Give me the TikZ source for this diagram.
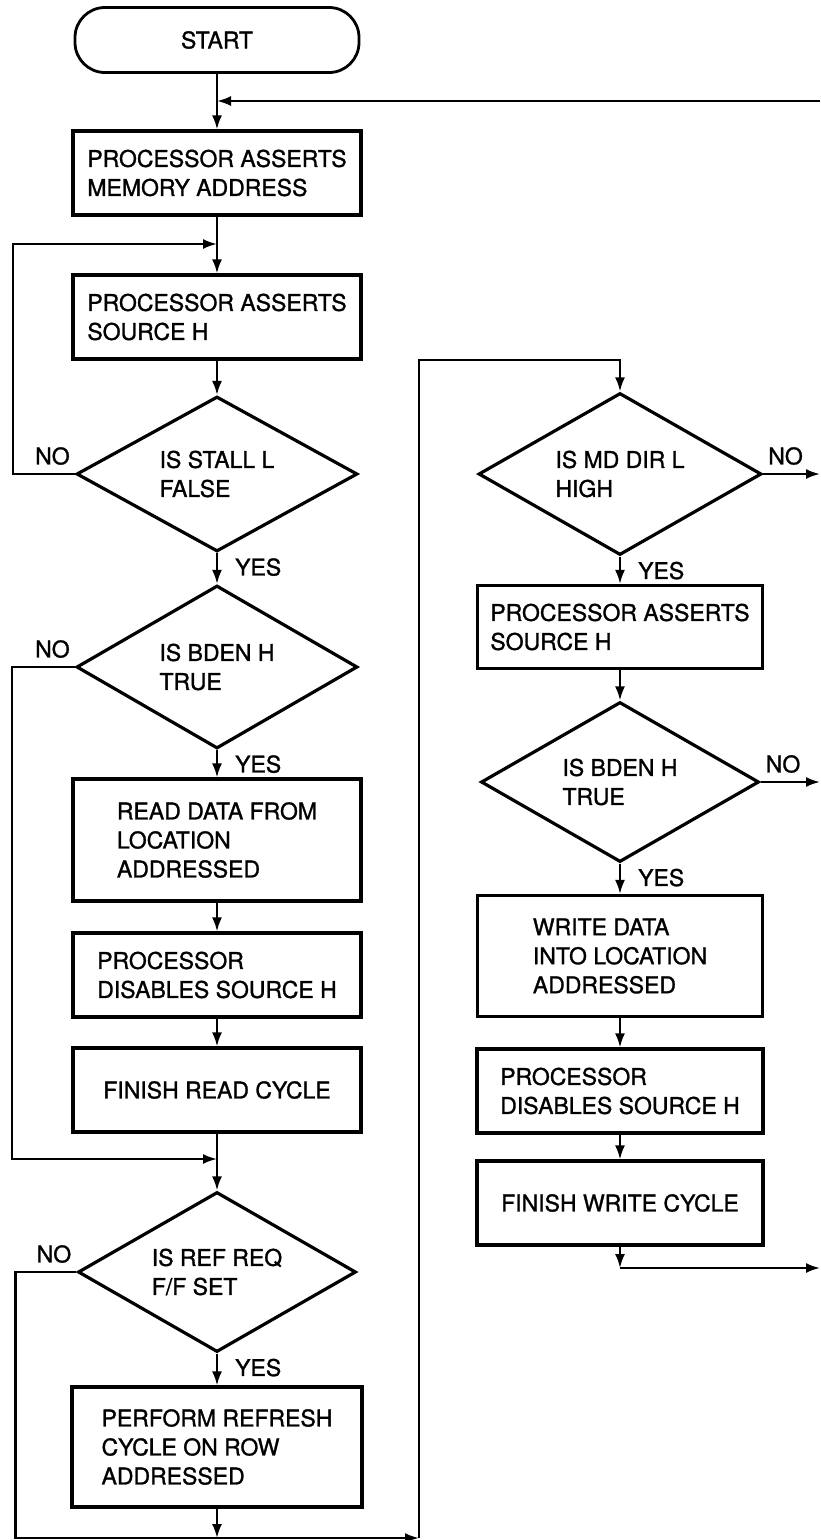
\documentclass[tikz,border=0pt]{standalone}
\usepackage{fontspec}
\setmainfont{TeX Gyre Heros}[FakeBold=1.2]
\usetikzlibrary{shapes,arrows.meta,positioning,calc}

\begin{document}
\begin{tikzpicture}[x=1pt,y=-1pt,
  every node/.style={font=\fontsize{23}{29}\selectfont},
  box/.style={draw,line width=3.2pt,minimum width=288pt,minimum height=84pt,align=left,inner sep=0pt},
  tall/.style={minimum height=122pt},
  test/.style={draw,diamond,aspect=2,line width=3.2pt,minimum width=281pt,minimum height=160pt,inner sep=0pt,align=left},
  term/.style={draw,rounded corners=30pt,line width=2.8pt,minimum width=284pt,minimum height=65pt},
  lbl/.style={inner sep=1pt},
  yes/.style={lbl,anchor=north west,xshift=17pt,yshift=-4pt},
  noleft/.style={lbl,anchor=south east,xshift=-4pt,yshift=8pt},
  noright/.style={lbl,anchor=south west,xshift=4pt,yshift=8pt},
  line/.style={line width=2.2pt},
  arr/.style={line,-{Latex[length=14pt,width=10pt]}}
]
\useasboundingbox (0,0) rectangle (820,1540);

\node[term] (start) at (217,40) {START};
\node[box] (addr) at (217,173) {PROCESSOR ASSERTS\\MEMORY ADDRESS};
\node[box] (srcl) at (217,317) {PROCESSOR ASSERTS\\SOURCE H};
\node[test,minimum height=155pt] (stall) at (217,474) {IS STALL L\\FALSE};
\node[test,minimum height=163pt] (bdenl) at (217,667) {IS BDEN H\\TRUE};
\node[box,tall] (read) at (217,840) {READ DATA FROM\\LOCATION\\ADDRESSED};
\node[box] (disl) at (217,975) {PROCESSOR\\DISABLES SOURCE H};
\node[box] (finr) at (217,1090) {FINISH READ CYCLE};
\node[test,minimum width=278pt] (refreq) at (217,1272) {IS REF REQ\\F/F SET};
\node[box,minimum height=120pt,minimum width=290pt] (refresh) at (217,1447) {PERFORM REFRESH\\CYCLE ON ROW\\ADDRESSED};

\node[test,minimum width=283pt,minimum height=162pt] (mddir) at (620,474) {IS MD DIR L\\HIGH};
\node[box,minimum width=285pt,minimum height=83pt] (srcr) at (620,627) {PROCESSOR ASSERTS\\SOURCE H};
\node[test,minimum width=278pt] (bdenr) at (620,782) {IS BDEN H\\TRUE};
\node[box,minimum width=285pt,minimum height=121pt] (write) at (620,956) {WRITE DATA\\INTO LOCATION\\ADDRESSED};
\node[box,minimum width=286pt] (disr) at (620,1091) {PROCESSOR\\DISABLES SOURCE H};
\node[box,minimum width=286pt] (finw) at (620,1203) {FINISH WRITE CYCLE};

\node[noleft] (no1) at (stall.west) {NO};
\node[noleft] (no2) at (bdenl.west) {NO};
\node[noleft] (no3) at (refreq.west) {NO};
\node[noright] (no4) at (mddir.east) {NO};
\node[noright] (no5) at (bdenr.east) {NO};
\node[yes] (yes1) at (stall.south) {YES};
\node[yes] (yes2) at (bdenl.south) {YES};
\node[yes] (yes3) at (refreq.south) {YES};
\node[yes] (yes4) at (mddir.south) {YES};
\node[yes] (yes5) at (bdenr.south) {YES};

\coordinate (ret) at (820,101);
\coordinate (back) at (217,101);
\coordinate (loop) at (217,244);
\coordinate (merge) at (217,1159);
\coordinate (corner) at (419,1538);
\coordinate (jump) at (620,360);
\coordinate (out1) at (820,474);
\coordinate (out2) at (820,782);
\coordinate (down) at (620,1268);
\coordinate (out3) at (820,1268);

\draw[arr] (start.south) -- (addr.north);
\draw[arr] (ret) -- (back);
\draw[arr] (addr.south) -- (srcl.north);
\draw[arr] (srcl.south) -- (stall.north);
\draw[arr] (stall.west) -- ++(-62,0) |- (loop);
\draw[arr] (stall.south) -- (bdenl.north);
\draw[arr] (bdenl.south) -- (read.north);
\draw[arr] (read.south) -- (disl.north);
\draw[arr] (disl.south) -- (finr.north);
\draw[arr] (bdenl.west) -- ++(-63,0) |- (merge);
\draw[arr] (finr.south) -- (refreq.north);
\draw[arr] (refreq.south) -- (refresh.north);
\draw[arr] (refreq.west) -- ++(-61,0) |- (corner);
\draw[arr] (refresh.south) -- (refresh.south |- corner);

\draw[arr] (corner) |- (jump) -- (mddir.north);
\draw[arr] (mddir.east) -- (out1);
\draw[arr] (mddir.south) -- (srcr.north);
\draw[arr] (srcr.south) -- (bdenr.north);
\draw[arr] (bdenr.east) -- (out2);
\draw[arr] (bdenr.south) -- (write.north);
\draw[arr] (write.south) -- (disr.north);
\draw[arr] (disr.south) -- (finw.north);
\draw[arr] (finw.south) -- (down);
\draw[arr] (down) -- (out3);

\end{tikzpicture}
\end{document}
